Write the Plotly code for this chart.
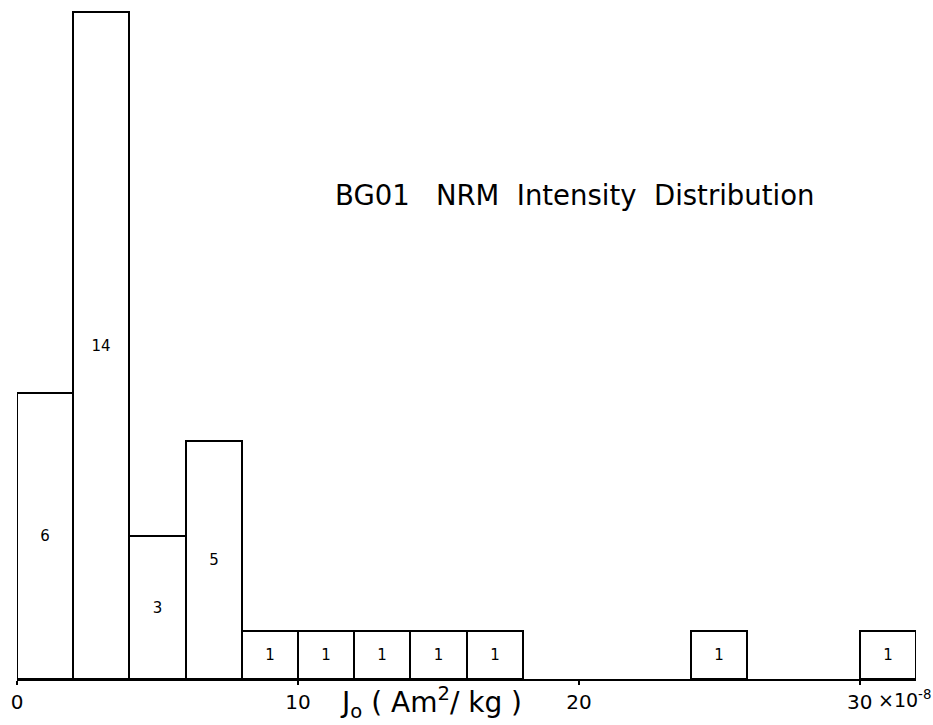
import plotly.graph_objects as go

# Histogram data: bin left edges (x10^-8 Am^2/kg), bin width, counts
bin_start = [0, 2, 4, 6, 8, 10, 12, 14, 16, 24, 30]
bin_width = 2
counts = [6, 14, 3, 5, 1, 1, 1, 1, 1, 1, 1]

tick_vals = [0, 10, 20, 30]
tick_text = ["0", "10", "20", "30"]

title_text = "BG01   NRM  Intensity  Distribution"
x_title = "J<sub>o</sub> ( Am<sup>2</sup>/ kg )"
exp_text = "×10<sup>-8</sup>"
font_family = "DejaVu Sans"

centers = [s + bin_width / 2 for s in bin_start]

fig = go.Figure()
fig.add_trace(go.Bar(
    x=centers,
    y=counts,
    width=[bin_width] * len(counts),
    marker=dict(color="white", line=dict(color="black", width=2)),
    text=[str(c) for c in counts],
    textposition="inside",
    insidetextanchor="middle",
    textangle=0,
    textfont=dict(family=font_family, size=15, color="black"),
    showlegend=False,
))

fig.update_layout(
    width=933, height=725,
    margin=dict(l=15, r=17, t=11, b=44),
    plot_bgcolor="white", paper_bgcolor="white",
    bargap=0,
    uniformtext=dict(minsize=15, mode="show"),
    xaxis=dict(
        range=[0, 32], showgrid=False, zeroline=False,
        showline=True, linecolor="black", linewidth=2,
        tickmode="array", tickvals=tick_vals, ticktext=tick_text,
        ticks="outside", ticklen=4, tickwidth=2, tickcolor="black",
        tickfont=dict(family=font_family, size=20, color="black"),
    ),
    yaxis=dict(
        range=[0, 14.03], visible=False, showgrid=False, zeroline=False,
    ),
    annotations=[
        dict(text=title_text, xref="paper", yref="paper", x=0.352, y=0.724,
             xanchor="left", yanchor="middle", showarrow=False,
             font=dict(family=font_family, size=27.5, color="black")),
        dict(text=x_title, xref="paper", yref="paper", x=0.461, y=-0.035,
             xanchor="center", yanchor="middle", showarrow=False,
             font=dict(family=font_family, size=28, color="black")),
        dict(text=exp_text, xref="x", yref="paper", x=30, y=-0.03,
             xanchor="left", yanchor="middle", xshift=16, showarrow=False,
             font=dict(family=font_family, size=19, color="black")),
    ],
)

fig.write_html("out.html")
